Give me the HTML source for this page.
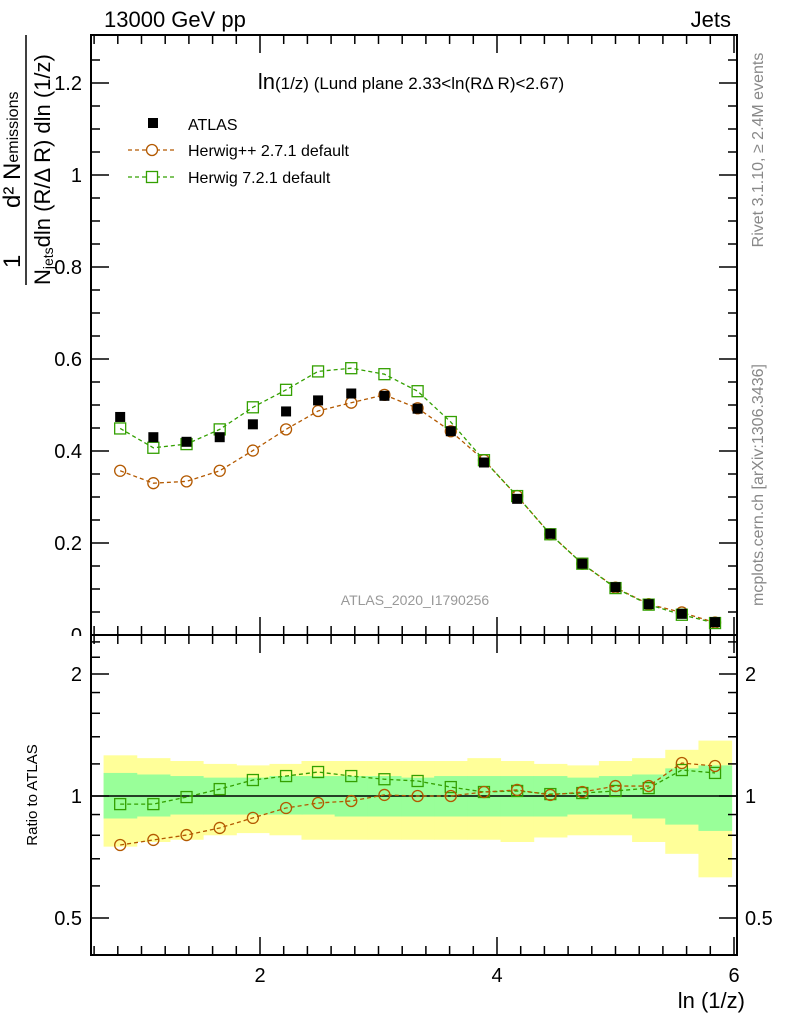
<!DOCTYPE html>
<html><head><meta charset="utf-8"><style>
body{margin:0;background:#fff}
svg{display:block;font-family:"Liberation Sans",sans-serif}
</style></head><body>
<svg id="c" width="786" height="1024" xmlns="http://www.w3.org/2000/svg"></svg>
<script>
const xCenters=[0.82,1.10,1.38,1.66,1.94,2.22,2.49,2.77,3.05,3.33,3.61,3.89,4.17,4.45,4.72,5.00,5.28,5.56,5.84];
const atlas=[0.474,0.430,0.420,0.430,0.458,0.486,0.510,0.525,0.520,0.492,0.443,0.375,0.296,0.220,0.155,0.104,0.067,0.046,0.028];
const herwigpp=[0.357,0.330,0.334,0.357,0.401,0.447,0.487,0.505,0.522,0.493,0.443,0.380,0.302,0.219,0.155,0.103,0.067,0.049,0.027];
const herwig7=[0.449,0.407,0.415,0.447,0.495,0.533,0.573,0.580,0.567,0.530,0.463,0.380,0.302,0.219,0.155,0.102,0.066,0.044,0.026];
const ratioPP=[0.757,0.779,0.801,0.834,0.883,0.934,0.961,0.972,1.006,1.0,1.0,1.023,1.035,1.006,1.023,1.058,1.058,1.206,1.186];
const ratio7=[0.955,0.955,0.994,1.04,1.095,1.12,1.146,1.12,1.10,1.089,1.052,1.023,1.029,1.011,1.017,1.029,1.046,1.159,1.14];
const yelUp=[1.26,1.24,1.22,1.20,1.19,1.20,1.22,1.22,1.22,1.22,1.22,1.24,1.22,1.20,1.19,1.22,1.24,1.30,1.37];
const yelDn=[0.75,0.77,0.78,0.80,0.81,0.80,0.78,0.78,0.78,0.78,0.78,0.78,0.77,0.79,0.80,0.80,0.77,0.72,0.63];
const grnUp=[1.14,1.13,1.12,1.11,1.11,1.12,1.12,1.12,1.12,1.11,1.12,1.12,1.12,1.12,1.11,1.12,1.13,1.17,1.19];
const grnDn=[0.88,0.89,0.90,0.90,0.90,0.90,0.90,0.89,0.89,0.89,0.89,0.89,0.89,0.89,0.90,0.90,0.88,0.85,0.82];
const mainTicks=["0","0.2","0.4","0.6","0.8","1","1.2"];
const xTicks=["2","4","6"];

const NS="http://www.w3.org/2000/svg";
const svg=document.getElementById('c');
const L=91,R=737,T=35,M=635,B=955;
const X=v=>23+v*118.5;
const Y=v=>635-v*460;
const YR=r=>796-Math.log2(r)*122;
function el(tag,attrs,parent){const e=document.createElementNS(NS,tag);for(const k in attrs)e.setAttribute(k,attrs[k]);(parent||svg).appendChild(e);return e;}
function txt(s,attrs){const e=el('text',attrs);e.textContent=s;return e;}
const binW=0.14;

const bands=el('g',{});


xCenters.forEach((x,i)=>{
 const y1=el('rect',{x:X(x-binW),y:YR(yelUp[i]),width:X(x+binW)-X(x-binW)+0.5,height:YR(yelDn[i])-YR(yelUp[i]),fill:'#ffff99'},bands);
 
 
});
xCenters.forEach((x,i)=>{
 const g1=el('rect',{x:X(x-binW),y:YR(grnUp[i]),width:X(x+binW)-X(x-binW)+0.5,height:YR(grnDn[i])-YR(grnUp[i]),fill:'#99ff99'},bands);
 
 
});
el('line',{x1:L,x2:R,y1:YR(1),y2:YR(1),stroke:'#000','stroke-width':1.5});

[[T,M],[M,B]].forEach(([a,b])=>{el('rect',{x:L,y:a,width:R-L,height:b-a,fill:'none',stroke:'#000','stroke-width':2});});

function xticks(top,bot){
 for(let v=0.6;v<=6.01;v+=0.2){const vv=Math.round(v*10)/10;const maj=Math.abs(vv-Math.round(vv))<1e-6&&Math.round(vv)%2===0;const len=maj?18:9;
  el('line',{x1:X(vv),x2:X(vv),y1:bot,y2:bot-len,stroke:'#000','stroke-width':1.5});
  el('line',{x1:X(vv),x2:X(vv),y1:top,y2:top+len,stroke:'#000','stroke-width':1.5});}
}
xticks(T,M);xticks(M,B);
xTicks.forEach(s=>{const t=txt(s,{x:X(+s),y:982,'font-size':20,'text-anchor':'middle'});});
const xt=txt('ln (1/z)',{x:745,y:1008,'font-size':22,'text-anchor':'end'});


for(let v=0;v<=1.3;v+=0.05){const vv=Math.round(v*100)/100;const maj=Math.abs(vv*5-Math.round(vv*5))<1e-6;const len=maj?18:9;const y=Y(vv);if(y<T)continue;
 el('line',{x1:L,x2:L+len,y1:y,y2:y,stroke:'#000','stroke-width':1.5});
 el('line',{x1:R,x2:R-len,y1:y,y2:y,stroke:'#000','stroke-width':1.5});}
mainTicks.forEach(s=>{const t=txt(s,{x:82,y:Y(+s)+7,'font-size':20,'text-anchor':'end'});});
el('rect',{x:60,y:636,width:26,height:12,fill:'#fff'});

[0.5,0.6,0.7,0.8,0.9,1,1.2,1.4,1.6,1.8,2,2.2,2.4].forEach(r=>{const maj=(r===0.5||r===1||r===2);const len=maj?18:9;const y=YR(r);
 el('line',{x1:L,x2:L+len,y1:y,y2:y,stroke:'#000','stroke-width':1.5});
 el('line',{x1:R,x2:R-len,y1:y,y2:y,stroke:'#000','stroke-width':1.5});});
["0.5","1","2"].forEach(s=>{
 const a=txt(s,{x:82,y:YR(+s)+7,'font-size':20,'text-anchor':'end'});
 const b=txt(s,{x:745,y:YR(+s)+7,'font-size':20});});

function dashed(xs,ys,f,col,name){const p=el('polyline',{points:xs.map((x,i)=>X(x)+','+f(ys[i])).join(' '),fill:'none',stroke:col,'stroke-width':1.3,'stroke-dasharray':'4,3'});}
function circles(ys,f,col,name){xCenters.forEach((x,i)=>{const c=el('circle',{cx:X(x),cy:f(ys[i]),r:5.5,fill:'none',stroke:col,'stroke-width':1.3});});}
function squares(ys,f,col,name){xCenters.forEach((x,i)=>{const c=el('rect',{x:X(x)-5.5,y:f(ys[i])-5.5,width:11,height:11,fill:'none',stroke:col,'stroke-width':1.3});});}
const cPP='#b35900',c7='#33a000';
dashed(xCenters,herwigpp,Y,cPP,'herwigpp-line');circles(herwigpp,Y,cPP,'herwigpp-point');
dashed(xCenters,herwig7,Y,c7,'herwig7-line');squares(herwig7,Y,c7,'herwig7-point');
xCenters.forEach((x,i)=>{const s=el('rect',{x:X(x)-5,y:Y(atlas[i])-5,width:10,height:10,fill:'#000'});});
dashed(xCenters,ratio7,YR,c7,'herwig7-ratio-line');squares(ratio7,YR,c7,'herwig7-ratio-point');
dashed(xCenters,ratioPP,YR,cPP,'herwigpp-ratio-line');circles(ratioPP,YR,cPP,'herwigpp-ratio-point');

function T2(s,a,name){const t=txt(s,a);return t;}
T2('13000 GeV pp',{x:104,y:27,'font-size':22},'beam-label');
T2('Jets',{x:731,y:27,'font-size':22,'text-anchor':'end'},'process-label');
const tt=el('text',{x:411,y:89,'font-size':17,'text-anchor':'middle'});

tt.innerHTML='<tspan font-size="22">ln</tspan>(1/z) (Lund plane 2.33&lt;ln(RΔ R)&lt;2.67)';
T2('ATLAS_2020_I1790256',{x:415,y:605,'font-size':14,fill:'#999','text-anchor':'middle'},'analysis-id');
T2('Rivet 3.1.10, ≥ 2.4M events',{x:0,y:0,'font-size':16,fill:'#888','text-anchor':'middle',transform:'translate(763,150) rotate(-90)'},'rivet-label');
T2('mcplots.cern.ch [arXiv:1306.3436]',{x:0,y:0,'font-size':16,fill:'#888','text-anchor':'middle',transform:'translate(763,485) rotate(-90)'},'mcplots-label');
T2('Ratio to ATLAS',{x:0,y:0,'font-size':15,'text-anchor':'middle',transform:'translate(37,795) rotate(-90)'},'ratio-axis-title');
const yt=el('g',{});
el('line',{x1:26,x2:26,y1:35,y2:285,stroke:'#000','stroke-width':1.5},yt);
const num=el('text',{'font-size':24,transform:'translate(20,268) rotate(-90)'},yt);num.textContent='1';
const n1=el('text',{'font-size':24,transform:'translate(20,208) rotate(-90)'},yt);n1.innerHTML='d² N<tspan font-size="16" dy="-2">emissions</tspan>';
const d1=el('text',{'font-size':22,transform:'translate(50,285) rotate(-90)'},yt);d1.innerHTML='N<tspan font-size="14" dy="3">jets</tspan><tspan dy="-3">dln (R/Δ R) dln (1/z)</tspan>';
const lg=el('g',{});
el('rect',{x:148,y:118,width:10,height:10,fill:'#000'},lg);
txt('ATLAS',{x:188,y:130,'font-size':16});
el('line',{x1:128,x2:175,y1:150,y2:150,stroke:cPP,'stroke-dasharray':'4,3','stroke-width':1.3},lg);
el('circle',{cx:152,cy:150,r:5.5,fill:'#fff',stroke:cPP,'stroke-width':1.3},lg);
txt('Herwig++ 2.7.1 default',{x:188,y:156,'font-size':16});
el('line',{x1:128,x2:175,y1:177,y2:177,stroke:c7,'stroke-dasharray':'4,3','stroke-width':1.3},lg);
el('rect',{x:146.5,y:171.5,width:11,height:11,fill:'#fff',stroke:c7,'stroke-width':1.3},lg);
txt('Herwig 7.2.1 default',{x:188,y:183,'font-size':16});
</script>
</body></html>
